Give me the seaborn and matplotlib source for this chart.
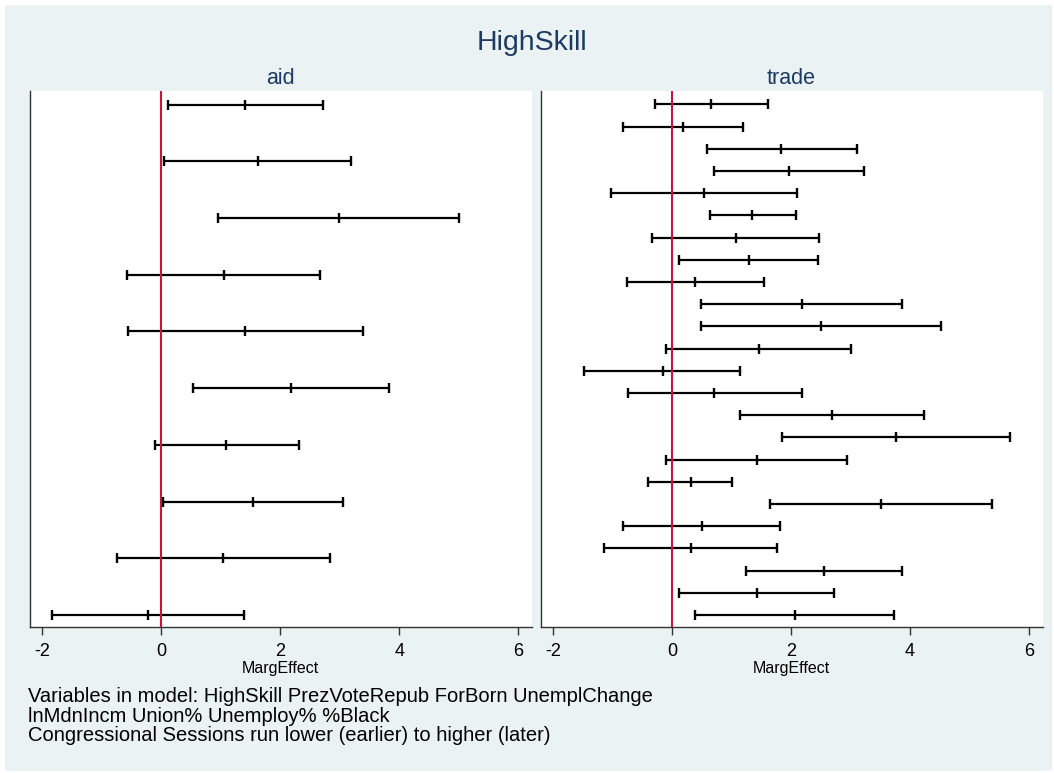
import matplotlib
matplotlib.use("Agg")
import matplotlib.pyplot as plt
from matplotlib.patches import Rectangle
import seaborn as sns
import pandas as pd

sns.set_style("white")
plt.rcParams["font.family"] = ["Liberation Sans", "DejaVu Sans"]
plt.rcParams["axes.unicode_minus"] = False

# ---------------- data ----------------
title = "HighSkill"
panel_names = ["aid", "trade"]

aid_low = [0.11, 0.05, 0.95, -0.58, -0.55, 0.54, -0.10, 0.03, -0.74, -1.84]
aid_est = [1.41, 1.62, 2.98, 1.05, 1.41, 2.19, 1.09, 1.55, 1.04, -0.22]
aid_high = [2.72, 3.19, 5.01, 2.67, 3.39, 3.82, 2.32, 3.05, 2.83, 1.40]

trade_low = [-0.29, -0.82, 0.58, 0.71, -1.02, 0.63, -0.33, 0.12, -0.76, 0.49,
             0.49, -0.10, -1.48, -0.75, 1.15, 1.85, -0.10, -0.41, 1.65, -0.82,
             -1.14, 1.24, 0.11, 0.38]
trade_est = [0.66, 0.19, 1.84, 1.96, 0.54, 1.35, 1.07, 1.30, 0.39, 2.19,
             2.51, 1.46, -0.16, 0.71, 2.69, 3.77, 1.42, 0.31, 3.52, 0.51,
             0.32, 2.55, 1.42, 2.06]
trade_high = [1.61, 1.20, 3.11, 3.22, 2.10, 2.08, 2.47, 2.46, 1.54, 3.87,
              4.53, 3.01, 1.15, 2.19, 4.24, 5.69, 2.94, 1.01, 5.38, 1.81,
              1.77, 3.87, 2.72, 3.73]

x_ticks = [-2, 0, 2, 4, 6]
x_label = "MargEffect"
notes = [
    "Variables in model: HighSkill PrezVoteRepub ForBorn UnemplChange",
    "lnMdnIncm Union% Unemploy% %Black",
    "Congressional Sessions run lower (earlier) to higher (later)",
]


def long_frame(low, est, high):
    rows = []
    for i, (lo, me, hi) in enumerate(zip(low, est, high)):
        for v in (lo, me, hi):
            rows.append({"row": i + 1, "value": v})
    return pd.DataFrame(rows)


frames = [long_frame(aid_low, aid_est, aid_high),
          long_frame(trade_low, trade_est, trade_high)]

# ---------------- layout ----------------
W, H = 1054, 773
navy = "#1E3A64"
bg = "#EAF2F3"
fig = plt.figure(figsize=(W / 100, H / 100), dpi=100)
fig.patch.set_facecolor("white")
fig.patches.append(Rectangle((5 / W, 1 - 771 / H), (1052 - 5) / W, (771 - 5) / H,
                             transform=fig.transFigure, facecolor=bg,
                             edgecolor="none", zorder=-10))

top_px, bot_px = 90.7, 626.7
panel_x = [(29.5, 532.0), (540.7, 1042.5)]
row_top_px, row_bot_px = 104.5, 615.0

for k, (name, df) in enumerate(zip(panel_names, frames)):
    x0, x1 = panel_x[k]
    ax = fig.add_axes([x0 / W, 1 - bot_px / H, (x1 - x0) / W, (bot_px - top_px) / H])
    ax.set_facecolor("white")
    n = df["row"].max()
    sns.lineplot(data=df, x="value", y="row", units="row", estimator=None,
                 color="black", lw=1.6, marker="|", markersize=7.5,
                 markeredgewidth=1.7, markeredgecolor="black", legend=False,
                 ax=ax, zorder=2)
    ax.axvline(0, color="#C8143C", lw=1.5, zorder=3)

    spacing = (row_bot_px - row_top_px) / (n - 1)
    ax.set_ylim(n + (bot_px - row_bot_px) / spacing, 1 - (row_top_px - top_px) / spacing)
    ax.set_xlim(-2.21, 6.23)
    ax.set_xticks(x_ticks)
    ax.set_xticklabels([str(t) for t in x_ticks])
    ax.set_yticks([])
    ax.set_ylabel("")
    for s in ("top", "right"):
        ax.spines[s].set_visible(False)
    for s in ("left", "bottom"):
        ax.spines[s].set_color("#333333")
        ax.spines[s].set_linewidth(1.0)
    ax.tick_params(axis="x", bottom=True, direction="out", length=6, width=1,
                   color="#333333", labelsize=13, pad=6, labelcolor="black")
    ax.set_xlabel(x_label, fontsize=11.5, color="black")
    ax.xaxis.set_label_coords(0.5, -(672.7 - bot_px) / (bot_px - top_px))
    ax.xaxis.label.set_va("baseline")
    ax.text(0.5, (bot_px - 84.3) / (bot_px - top_px), name, transform=ax.transAxes,
            ha="center", va="baseline", fontsize=15.5, color=navy)

fig.text(532 / W, 1 - 50 / H, title, ha="center", va="baseline",
         fontsize=20.5, color=navy)

for line, b in zip(notes, [702, 721.5, 741]):
    fig.text(28.5 / W, 1 - b / H, line, ha="left", va="baseline",
             fontsize=14.5, color="black")

fig.savefig("out.png", dpi=100, facecolor=fig.get_facecolor())
